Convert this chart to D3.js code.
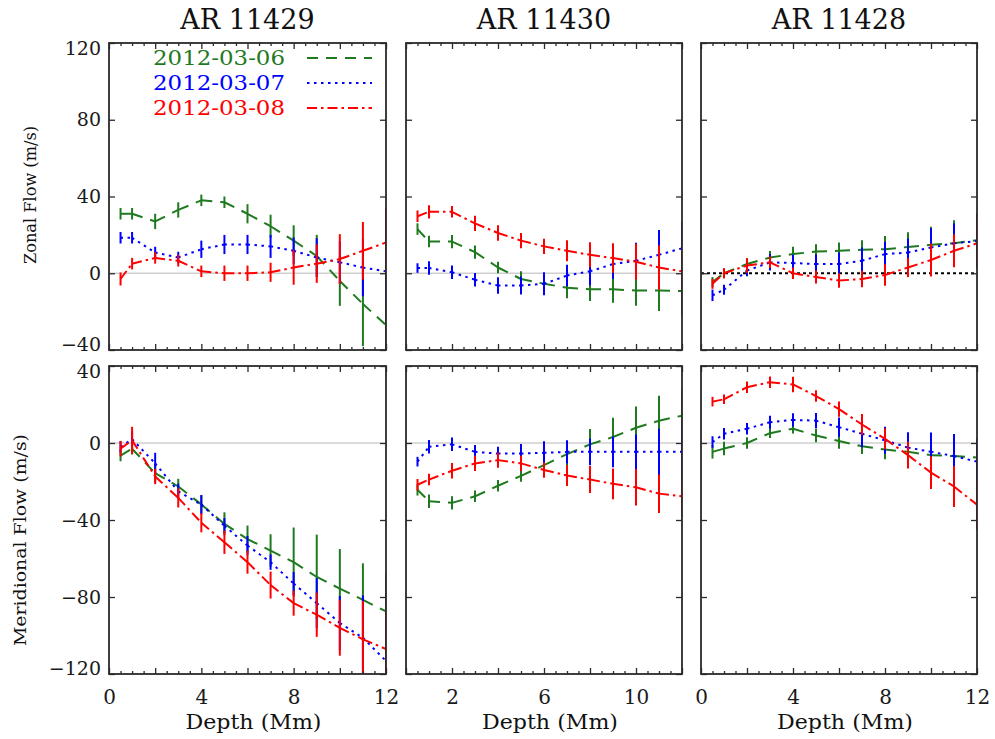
<!DOCTYPE html>
<html>
<head>
<meta charset="utf-8">
<script src="https://cdn.jsdelivr.net/npm/d3@7"></script>
<style>
  body { margin: 0; background: #fff; }
  svg { display: block; }
</style>
</head>
<body>
<script>
// ---------------- DATA ----------------
const depth = [0.5, 1, 2, 3, 4, 5, 6, 7, 8, 9, 10, 11, 12];
const regions = ["AR 11429", "AR 11430", "AR 11428"];
const dates = ["2012-03-06", "2012-03-07", "2012-03-08"];
const yTitles = ["Zonal Flow (m/s)", "Meridional Flow (m/s)"];
const xTitle = "Depth (Mm)";
const zonalTicks = [-40, 0, 40, 80, 120];
const meridTicks = [-120, -80, -40, 0, 40];
const xTickLabels = [[0, 4, 8, 12], [2, 6, 10], [0, 4, 8, 12]];

// Zonal flow, AR 11429
const zonal11429_06 = [31, 31, 27, 33, 38, 37, 31, 24.5, 17, 9, -4, -16, -27];
const zonal11429_06_err = [3, 3, 4, 4, 3, 3, 5, 6, 8, 11, 13, 22, 20];
const zonal11429_07 = [18.5, 18.5, 10.8, 8.2, 12.5, 15, 15, 14, 11.7, 8.2, 5.7, 3, 1];
const zonal11429_07_err = [3, 3, 3, 3, 4.5, 5, 5, 6, 7, 10, 11, 15, 18];
const zonal11429_08 = [-3, 5, 8, 6.5, 1, 0, 0, 0.5, 3, 5, 7.4, 11.7, 16];
const zonal11429_08_err = [3.4, 3, 3, 3, 3, 4, 4, 5, 9, 10, 13, 15, 18];
// Zonal flow, AR 11430
const zonal11430_06 = [23, 16.5, 16.5, 11, 3, -3, -5.5, -7.5, -8.4, -8.4, -9, -9, -9.3];
const zonal11430_06_err = [3, 3, 3.5, 3.5, 3, 4, 5, 5.5, 6, 7, 8, 10.7, 13];
const zonal11430_07 = [2.7, 2.7, 0.5, -3.4, -6.4, -6.4, -5.5, -1.2, 1, 4.8, 6.5, 9.6, 13];
const zonal11430_07_err = [2.5, 3.5, 3.5, 3.5, 4.3, 4.7, 6, 5.6, 7.3, 7.7, 9.4, 12.9, 14];
const zonal11430_08 = [29.7, 32, 32, 26, 21, 17, 14, 11.7, 9.6, 7.9, 6, 3, 1];
const zonal11430_08_err = [3, 3.5, 3, 4, 4, 4, 4, 5.5, 6.5, 7.7, 9.4, 11.6, 13];
// Zonal flow, AR 11428
const zonal11428_06 = [-4.6, 0, 4.8, 8.2, 10, 11.3, 11.7, 12.2, 12.5, 13.7, 14.8, 15.6, 17.2];
const zonal11428_06_err = [2.6, 2.6, 3, 3.4, 3.8, 3.8, 4.3, 5, 6.9, 7.7, 9.4, 12, 14];
const zonal11428_07 = [-11.5, -8.6, 1.4, 5.7, 5.3, 4.8, 4.8, 6.5, 10, 10.8, 13.4, 15.6, 16.8];
const zonal11428_07_err = [3, 2.6, 3, 4.3, 4.3, 5, 6, 6.9, 6.4, 7.3, 10, 10.3, 14];
const zonal11428_08 = [-5.5, 0, 4, 5.7, 0, -2, -3.8, -3, -0.9, 3, 6.9, 11.7, 15.6];
const zonal11428_08_err = [2.6, 2.6, 3.8, 3, 3, 3.4, 3.8, 4.3, 5.6, 5, 8.6, 8.6, 13];

// Meridional flow, AR 11429
const merid11429_06 = [-6.5, -3, -15.7, -22.6, -31.9, -42, -49.9, -55.9, -61.9, -69.6, -75.6, -81.5, -87.5];
const merid11429_06_err = [3, 3, 4.7, 4, 4.7, 6, 7, 8.5, 18, 22, 20.5, 19, 20];
const merid11429_07 = [-2, 2, -10.6, -25.1, -32, -43, -53.3, -61.9, -73, -83.2, -93.5, -101.2, -113.2];
const merid11429_07_err = [3, 4, 5.5, 4, 5, 4, 5, 4, 6, 13, 14, 22, 22];
const merid11429_08 = [-2.9, 1.4, -17.4, -28.5, -41.4, -51.6, -61.9, -73.8, -83.2, -89.2, -96, -102, -107];
const merid11429_08_err = [4, 7, 4, 5, 5, 6, 6, 7, 6.5, 11.5, 14.5, 20, 20];
// Meridional flow, AR 11430
const merid11430_06 = [-24.3, -30.3, -31.1, -27.7, -22.2, -17.1, -11.5, -5.8, -0.7, 3.1, 7.9, 11.6, 14.2];
const merid11430_06_err = [3, 3.5, 3.5, 3, 3, 3, 3, 6, 8, 10, 11, 13, 14];
const merid11430_07 = [-9.7, -2, -0.7, -4.6, -5.5, -5.5, -5.1, -4.6, -4.6, -4.6, -4.6, -4.6, -4.6];
const merid11430_07_err = [2.5, 3.5, 3.5, 3.5, 3.5, 5, 6, 6, 7, 8, 9, 12, 14];
const merid11430_08 = [-21.7, -19, -14.4, -10.6, -8.9, -10.6, -14, -16.9, -19, -21.2, -23, -26.3, -27.7];
const merid11430_08_err = [3, 3, 4, 4, 4, 4, 4, 5.5, 7, 8, 9.5, 10, 11];
// Meridional flow, AR 11428
const merid11428_06 = [-4.6, -2.9, 0, 5.1, 7.4, 3.9, 1, -1.7, -3.4, -4.6, -6.3, -6.8, -7.5];
const merid11428_06_err = [3.5, 3.5, 3, 2.5, 2.5, 3.5, 4, 4, 5, 5, 5, 5, 5];
const merid11428_07 = [0.5, 4.8, 7.4, 10.8, 12, 11.6, 8.2, 4.8, 1.4, -2.4, -4.6, -6.8, -9.7];
const merid11428_07_err = [3, 3, 3, 3.4, 3.4, 4, 5, 7, 7, 8, 10, 11.5, 12];
const merid11428_08 = [21.5, 22.7, 29, 31.6, 30.4, 24.4, 17.6, 9.6, 2.2, -6.3, -15.4, -22.6, -32];
const merid11428_08_err = [2.5, 2.5, 3, 3, 4, 3, 4, 5.5, 5.5, 7, 8.5, 10.7, 13];

// ---------------- STYLE / LAYOUT ----------------
const colors = ["#1f7a1f", "#0000ff", "#ff0000"];
const dashes = ["11,8", "2.5,4.5", "10,4,2.5,4"];
const colX = [[109, 386], [406, 682], [701, 977]];
const rowY = [[43, 350], [366, 674]];
const yDomains = [[-40, 120], [-120, 40]];
const yTickSets = [zonalTicks, meridTicks];

const panels = [
  [
    [[zonal11429_06, zonal11429_06_err], [zonal11429_07, zonal11429_07_err], [zonal11429_08, zonal11429_08_err]],
    [[zonal11430_06, zonal11430_06_err], [zonal11430_07, zonal11430_07_err], [zonal11430_08, zonal11430_08_err]],
    [[zonal11428_06, zonal11428_06_err], [zonal11428_07, zonal11428_07_err], [zonal11428_08, zonal11428_08_err]]
  ],
  [
    [[merid11429_06, merid11429_06_err], [merid11429_07, merid11429_07_err], [merid11429_08, merid11429_08_err]],
    [[merid11430_06, merid11430_06_err], [merid11430_07, merid11430_07_err], [merid11430_08, merid11430_08_err]],
    [[merid11428_06, merid11428_06_err], [merid11428_07, merid11428_07_err], [merid11428_08, merid11428_08_err]]
  ]
];

const svg = d3.select("body").append("svg").attr("width", 995).attr("height", 739);
const font = "'DejaVu Serif', serif";
const frameColor = "#2a2a2a";

const majorX = d3.range(0, 12.001, 2);
const minorX = d3.range(0.5, 12, 0.5).filter(v => v % 2 !== 0);

for (let r = 0; r < 2; r++) {
  for (let c = 0; c < 3; c++) {
    const [x0, x1] = colX[c];
    const [yt, yb] = rowY[r];
    const x = d3.scaleLinear().domain([0, 12]).range([x0, x1]);
    const y = d3.scaleLinear().domain(yDomains[r]).range([yb, yt]);
    const g = svg.append("g");
    const clipId = `clip-${r}-${c}`;
    g.append("clipPath").attr("id", clipId).append("rect")
      .attr("x", x0).attr("y", yt).attr("width", x1 - x0).attr("height", yb - yt);
    const plot = g.append("g").attr("clip-path", `url(#${clipId})`);

    // zero line
    const zero = plot.append("line").attr("x1", x0).attr("x2", x1)
      .attr("y1", y(0)).attr("y2", y(0));
    if (r === 0 && c === 2) {
      zero.attr("stroke", "#000").attr("stroke-width", 2).attr("stroke-dasharray", "3,3");
    } else {
      zero.attr("stroke", "#cfcfcf").attr("stroke-width", 1.5);
    }

    panels[r][c].forEach(([vals, errs], s) => {
      const sg = plot.append("g");
      // error bars
      sg.selectAll("line.err").data(depth).join("line").attr("class", "err")
        .attr("x1", (d) => x(d)).attr("x2", (d) => x(d))
        .attr("y1", (d, i) => y(vals[i] - errs[i]))
        .attr("y2", (d, i) => y(vals[i] + errs[i]))
        .attr("stroke", colors[s]).attr("stroke-width", 2);
      // line segments (pattern restarts at each vertex)
      const segs = d3.range(depth.length - 1);
      sg.selectAll("line.seg").data(segs).join("line").attr("class", "seg")
        .attr("x1", i => x(depth[i])).attr("y1", i => y(vals[i]))
        .attr("x2", i => x(depth[i + 1])).attr("y2", i => y(vals[i + 1]))
        .attr("stroke", colors[s]).attr("stroke-width", 2)
        .attr("stroke-dasharray", dashes[s]);
    });

    // frame
    g.append("rect").attr("x", x0).attr("y", yt).attr("width", x1 - x0).attr("height", yb - yt)
      .attr("fill", "none").attr("stroke", frameColor).attr("stroke-width", 1.8);

    const styleAxis = (sel) => {
      sel.select(".domain").remove();
      sel.selectAll(".tick line").attr("stroke", frameColor).attr("stroke-width", 1.3);
      sel.selectAll("text").attr("font-family", font).attr("font-size", 20).attr("fill", "#1a1a1a");
    };

    // x axes
    g.append("g").attr("transform", `translate(0,${yb})`)
      .call(d3.axisBottom(x).tickValues(majorX).tickSize(-6).tickPadding(16)
        .tickFormat(d => (r === 1 && xTickLabels[c].includes(d)) ? d3.format("d")(d) : ""))
      .call(styleAxis);
    g.append("g").attr("transform", `translate(0,${yb})`)
      .call(d3.axisBottom(x).tickValues(minorX).tickSize(-3).tickFormat(""))
      .call(styleAxis);
    g.append("g").attr("transform", `translate(0,${yt})`)
      .call(d3.axisTop(x).tickValues(majorX).tickSize(-6).tickFormat(""))
      .call(styleAxis);
    g.append("g").attr("transform", `translate(0,${yt})`)
      .call(d3.axisTop(x).tickValues(minorX).tickSize(-3).tickFormat(""))
      .call(styleAxis);

    // y axes
    const yMax = yDomains[r][1], yMin = yDomains[r][0];
    const ax = g.append("g").attr("transform", `translate(${x0},0)`)
      .call(d3.axisLeft(y).tickValues(yTickSets[r]).tickSize(-6).tickPadding(8)
        .tickFormat(c === 0 ? d3.format("d") : ""))
      .call(styleAxis);
    ax.selectAll(".tick text").attr("font-size", 19)
      .attr("dy", d => d === yMax ? "0.62em" : (d === yMin ? "0.02em" : "0.32em"));
    g.append("g").attr("transform", `translate(${x1},0)`)
      .call(d3.axisRight(y).tickValues(yTickSets[r]).tickSize(-6).tickFormat(""))
      .call(styleAxis);

    // titles
    if (r === 0) {
      svg.append("text").attr("x", (x0 + x1) / 2).attr("y", 29)
        .attr("text-anchor", "middle").attr("font-family", font).attr("font-size", 27)
        .attr("fill", "#111").text(regions[c]);
    } else {
      svg.append("text").attr("x", (x0 + x1) / 2 + 6).attr("y", 729)
        .attr("text-anchor", "middle").attr("font-family", font).attr("font-size", 21)
        .attr("fill", "#111").attr("textLength", 136).attr("lengthAdjust", "spacingAndGlyphs")
        .text(xTitle);
    }
  }
}

// y titles
svg.append("text").attr("transform", "translate(30,195) rotate(-90)")
  .attr("text-anchor", "middle").attr("dominant-baseline", "central")
  .attr("font-family", font).attr("font-size", 17).attr("fill", "#111")
  .attr("textLength", 138).attr("lengthAdjust", "spacingAndGlyphs").text(yTitles[0]);
svg.append("text").attr("transform", "translate(20,540) rotate(-90)")
  .attr("text-anchor", "middle").attr("dominant-baseline", "central")
  .attr("font-family", font).attr("font-size", 17).attr("fill", "#111")
  .attr("textLength", 212).attr("lengthAdjust", "spacingAndGlyphs").text(yTitles[1]);

// legend
const legend = svg.append("g");
dates.forEach((d, i) => {
  const base = 65 + i * 25;
  legend.append("text").attr("x", 153).attr("y", base)
    .attr("font-family", font).attr("font-size", 20).attr("fill", colors[i])
    .attr("textLength", 132).attr("lengthAdjust", "spacingAndGlyphs").text(d);
  legend.append("line").attr("x1", 307).attr("x2", 372).attr("y1", base - 7).attr("y2", base - 7)
    .attr("stroke", colors[i]).attr("stroke-width", 2).attr("stroke-dasharray", dashes[i]);
});
</script>
</body>
</html>
